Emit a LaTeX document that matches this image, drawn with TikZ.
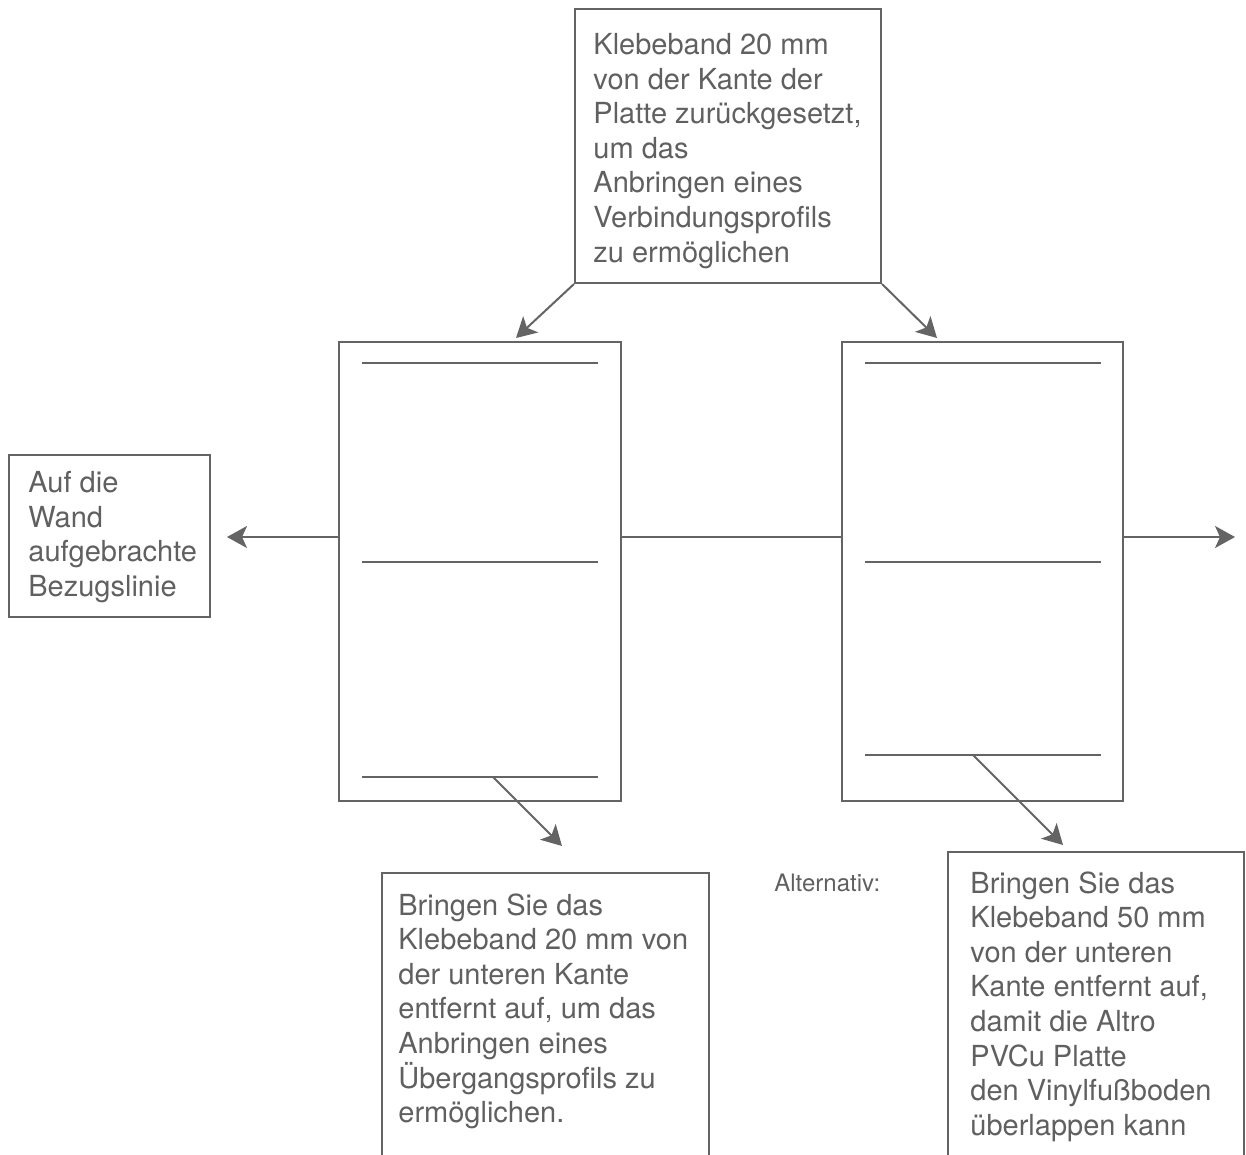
\documentclass[tikz,border=0pt]{standalone}
\usepackage{fontspec}
\setmainfont{TeX Gyre Heros}
\usepackage{tikz}
\usetikzlibrary{arrows.meta,positioning,fit}
\definecolor{ink}{RGB}{100,100,100}
\definecolor{inktext}{RGB}{96,96,96}
\tikzset{
  frame/.style={draw=ink, line width=1pt, inner sep=0pt},
  txt/.style={text=inktext, align=left, inner sep=0pt, anchor=north west,
    font=\fontsize{14.5}{17.3}\selectfont},
  tape/.style={draw=ink, line width=1pt},
  arr/.style={draw=ink, line width=1pt, -{Stealth[length=10pt, width=11pt, inset=2.5pt]}},
  small/.style={text=inktext, inner sep=0pt, anchor=base west, font=\fontsize{12}{14}\selectfont}
}

\begin{document}
\begin{tikzpicture}[x=0.5pt, y=-0.5pt]
    \useasboundingbox (0,0) rectangle (1246,1155);
    \clip (0,0) rectangle (1246,1155);

    % Platten
    \node[frame, fit={(339,342) (621,801)}] (panelL) {};
    \node[frame, fit={(842,342) (1123,801)}] (panelR) {};
    \foreach \y in {363,562,777} \draw[tape] (362,\y) -- (598,\y);
    \foreach \y in {363,562,755} \draw[tape] (865,\y) -- (1101,\y);

    % Textfelder
    \node[frame, fit={(575,9) (881,283)}] (note) {};
    \node[txt] (noteText) at (593,33) {Klebeband 20 mm\\von der Kante der\\Platte zurückgesetzt,\\um das\\Anbringen eines\\Verbindungsprofils\\zu ermöglichen};

    \node[frame, fit={(9,455) (210,617)}] (wall) {};
    \node[txt] (wallText) at (28,471) {Auf die\\Wand\\aufgebrachte\\Bezugslinie};

    \node[frame, fit={(382,873) (709,1190)}] (stepL) {};
    \node[txt] (stepLText) at (398,893) {Bringen Sie das\\Klebeband 20 mm von\\der unteren Kante\\entfernt auf, um das\\Anbringen eines\\Übergangsprofils zu\\ermöglichen.};

    \node[frame, fit={(948,852) (1244,1190)}] (stepR) {};
    \node[txt] (stepRText) at (970,871) {Bringen Sie das\\Klebeband 50 mm\\von der unteren\\Kante entfernt auf,\\damit die Altro\\PVCu Platte\\den Vinylfußboden\\überlappen kann};
    \node[small] (alt) at (774,891) {Alternativ:};

    % Bezugslinie
    \coordinate (refL) at (227,537);
    \coordinate (refR) at (1235,537);
    \draw[arr] (panelL.west |- refL) -- (refL);
    \draw[tape] (panelL.east |- refL) -- (panelR.west |- refL);
    \draw[arr] (panelR.east |- refL) -- (refR);

    % Pfeile
    \coordinate (tipL) at (516,338);
    \coordinate (tipR) at (937,338);
    \coordinate (tapeL) at (493,777);
    \coordinate (tapeR) at (973,755);
    \draw[arr] (note.south west) -- (tipL);
    \draw[arr] (note.south east) -- (tipR);
    \draw[arr] (tapeL) -- (562,846);
    \draw[arr] (tapeR) -- (1063,845);
\end{tikzpicture}
\end{document}
